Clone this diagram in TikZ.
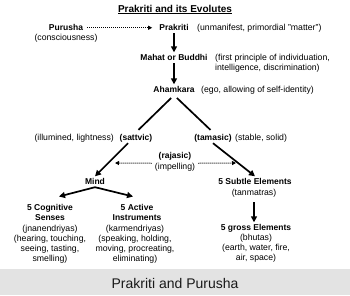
\documentclass[tikz,border=0pt]{standalone}
\usepackage{fontspec}
\setmainfont{Liberation Sans}
\usetikzlibrary{arrows.meta}
\tikzset{
  bt/.style={font=\fontsize{8.5}{10}\selectfont\bfseries, inner sep=1pt, text height=6.5pt, text depth=2pt, anchor=base},
  rt/.style={font=\fontsize{8.7}{10}\selectfont, inner sep=1pt, text height=6.5pt, text depth=2pt, anchor=base},
  bml/.style={font=\fontsize{8.5}{10}\selectfont\bfseries, inner sep=1pt, align=center, anchor=north},
  rml/.style={font=\fontsize{8.7}{10}\selectfont, inner sep=1pt, align=center, anchor=north},
  arr/.style={line width=1.7pt, -{Triangle[width=6pt,length=6pt]}},
  line/.style={line width=1.7pt},
  dotarr/.style={line width=1pt, dash pattern=on 1pt off 1pt, -{Triangle[width=4pt,length=4pt]}}
}
\begin{document}
\begin{tikzpicture}[x=1pt,y=-1pt]
\useasboundingbox (0,0) rectangle (350,295);
\fill[white] (0,0) rectangle (350,295);
\fill[black!11] (0,269) rectangle (350,295);
\node[font=\fontsize{14}{16}\selectfont, anchor=base, text=black!90] (cap) at (175,288) {Prakriti and Purusha};

\node[font=\fontsize{10}{12}\selectfont\bfseries, anchor=base, inner sep=0pt] (title) at (175,12) {\underline{Prakriti and its Evolutes}};

\node[bt] (purusha) at (66,30) {Purusha};
\node[rt] (consc) at (66,40) {(consciousness)};
\node[bt] (prakriti) at (174,30) {Prakriti};
\node[rt, anchor=base west] (unman) at (196,30) {(unmanifest, primordial "matter")};
\node[bt] (mahat) at (174,60) {Mahat or Buddhi};
\node[rml, align=left, anchor=north west] (first) at (214,53) {(first principle of individuation,\\intelligence, discrimination)};
\node[bt] (aham) at (174,92) {Ahamkara};
\node[rt, anchor=base west] (ego) at (200,92) {(ego, allowing of self-identity)};
\node[bt] (sattvic) at (136,140) {(sattvic)};
\node[rt, anchor=base east] (illum) at (115,140) {(illumined, lightness)};
\node[bt] (tamasic) at (213,140) {(tamasic)};
\node[rt, anchor=base west] (stable) at (234,140) {(stable, solid)};
\node[bt] (rajasic) at (175,158) {(rajasic)};
\node[rt] (impel) at (175,169) {(impelling)};
\node[bt] (mind) at (95,184) {Mind};
\node[bt] (subtle) at (255,184) {5 Subtle Elements};
\node[rt] (tanm) at (254,195) {(tanmatras)};
\node[bml] (cog) at (50,203) {5 Cognitive\\Senses};
\node[rml] (cogtx) at (50,224) {(jnanendriyas)\\(hearing, touching,\\seeing, tasting,\\smelling)};
\node[bml] (act) at (137,203) {5 Active\\Instruments};
\node[rml] (acttx) at (135,224) {(karmendriyas)\\(speaking, holding,\\moving, procreating,\\eliminating)};
\node[bt] (gross) at (256,230) {5 gross Elements};
\node[rml] (grosstx) at (256,233) {(bhutas)\\(earth, water, fire,\\air, space)};

\coordinate (rl) at (115,163);
\coordinate (rr) at (236,163);

\draw[dotarr, shorten <=3pt, shorten >=6pt] (purusha.east) -- (prakriti.west);
\draw[arr] (prakriti.south) -- (mahat.north);
\draw[arr] (mahat.south) -- (aham.north);
\draw[line, shorten <=4pt, shorten >=3.5pt] (aham.south) -- (sattvic.north);
\draw[line, shorten <=4pt, shorten >=3.5pt] (aham.south) -- (tamasic.north);
\draw[arr] ([xshift=-8pt]sattvic.south) -- (mind.north);
\draw[arr] (tamasic.south) -- (subtle.north);
\draw[dotarr] ([xshift=-2pt,yshift=3.5pt]impel.west) -- (rl);
\draw[dotarr] ([xshift=2pt,yshift=3.5pt]impel.east) -- (rr);
\draw[arr] (mind.south) -- ([xshift=9pt,yshift=6.5pt]cog.north);
\draw[arr] (mind.south) -- ([xshift=-4pt,yshift=6.5pt]act.north);
\draw[arr, shorten <=4pt] (tanm.south) -- (tanm.south |- gross.north);
\end{tikzpicture}
\end{document}
